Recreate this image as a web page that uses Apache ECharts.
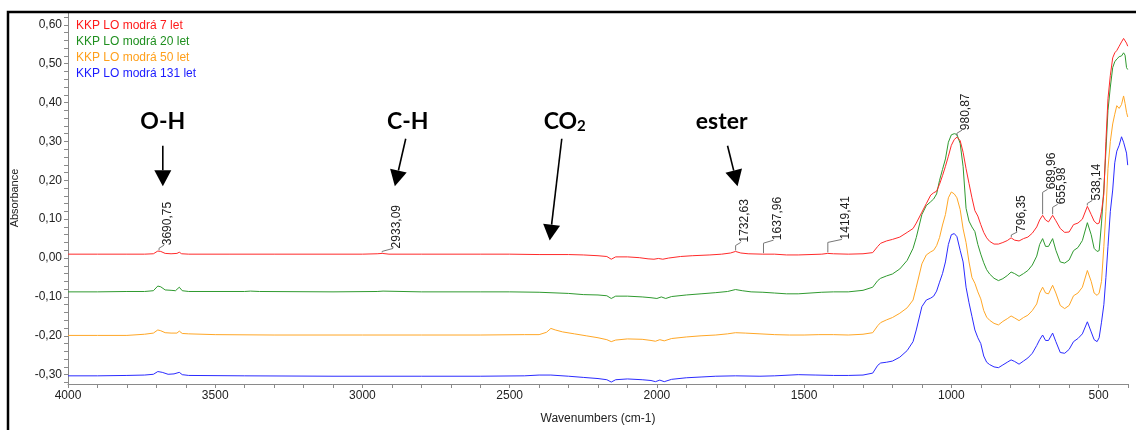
<!DOCTYPE html>
<html>
<head>
<meta charset="utf-8">
<script src="https://cdn.jsdelivr.net/npm/echarts@6/dist/echarts.min.js"></script>
<style>
  html, body { margin: 0; padding: 0; background: #fff; }
  #chart { width: 1136px; height: 430px; }
</style>
</head>
<body>
<div id="chart"></div>
<script>
// FTIR spectra of "KKP LO modrá" samples of different age, [wavenumber cm-1, absorbance]
const seriesNames = ['KKP LO modrá 7 let', 'KKP LO modrá 20 let', 'KKP LO modrá 50 let', 'KKP LO modrá 131 let'];

const spec7 = [
  [4000,0.010],[3900,0.010],[3800,0.010],[3740,0.010],[3710,0.011],[3695,0.018],[3685,0.017],[3670,0.012],
  [3650,0.011],[3630,0.012],[3622,0.015],[3614,0.011],[3590,0.010],[3450,0.010],[3300,0.010],[3100,0.010],
  [3000,0.010],[2950,0.011],[2933,0.012],[2910,0.010],[2800,0.010],[2600,0.010],[2500,0.010],[2400,0.009],
  [2300,0.009],[2250,0.008],[2200,0.006],[2170,0.004],[2155,-0.003],[2140,0.003],[2100,0.003],[2060,0.001],
  [2030,-0.002],[2010,-0.003],[1995,-0.001],[1980,-0.003],[1960,0.000],[1920,0.004],[1880,0.006],[1820,0.008],
  [1780,0.010],[1750,0.013],[1733,0.017],[1715,0.013],[1690,0.011],[1640,0.010],[1600,0.010],[1560,0.008],
  [1520,0.008],[1480,0.009],[1440,0.010],[1420,0.012],[1400,0.011],[1350,0.010],
  [1300,0.011],[1267,0.014],[1250,0.030],[1240,0.038],[1220,0.044],[1200,0.048],[1175,0.054],[1150,0.066],
  [1130,0.076],[1119,0.090],[1100,0.118],[1085,0.140],[1070,0.162],[1060,0.168],[1050,0.172],[1040,0.190],
  [1030,0.212],[1020,0.236],[1010,0.262],[1000,0.290],[990,0.305],[981,0.311],[970,0.302],[960,0.272],
  [950,0.230],[940,0.192],[930,0.155],[920,0.122],[910,0.108],[900,0.086],[890,0.066],[880,0.052],
  [870,0.043],[855,0.036],[840,0.036],[825,0.040],[810,0.045],[797,0.052],[785,0.046],[770,0.044],
  [755,0.050],[740,0.054],[725,0.064],[710,0.080],[700,0.098],[690,0.110],[680,0.098],[670,0.093],
  [656,0.110],[645,0.096],[630,0.076],[615,0.066],[600,0.067],[585,0.086],[570,0.090],[555,0.100],
  [538,0.133],[525,0.112],[515,0.095],[505,0.088],[498,0.090],[490,0.120],[482,0.165],[475,0.300],
  [468,0.410],[460,0.470],[452,0.515],[445,0.528],[438,0.534],[430,0.545],[422,0.556],[415,0.565],
  [410,0.570],[405,0.553],[401,0.545]
];

const spec20 = [
  [4000,-0.087],[3900,-0.087],[3800,-0.086],[3740,-0.086],[3710,-0.084],[3695,-0.072],[3685,-0.074],[3670,-0.082],
  [3650,-0.083],[3635,-0.084],[3622,-0.075],[3612,-0.084],[3590,-0.086],[3400,-0.086],[3380,-0.085],[3350,-0.086],
  [3100,-0.087],[2950,-0.086],[2930,-0.085],[2800,-0.087],[2600,-0.087],[2500,-0.087],[2400,-0.088],[2300,-0.091],
  [2250,-0.094],[2200,-0.095],[2170,-0.097],[2155,-0.104],[2140,-0.098],[2100,-0.098],[2050,-0.100],[2020,-0.102],
  [2000,-0.104],[1985,-0.100],[1970,-0.104],[1950,-0.099],[1900,-0.095],[1850,-0.092],[1800,-0.089],[1760,-0.086],
  [1733,-0.081],[1710,-0.084],[1680,-0.087],[1640,-0.088],[1600,-0.090],[1560,-0.092],[1520,-0.092],[1480,-0.090],
  [1440,-0.088],[1400,-0.087],[1350,-0.087],
  [1300,-0.083],[1267,-0.075],[1250,-0.058],[1240,-0.052],[1220,-0.046],[1200,-0.041],[1175,-0.028],[1150,-0.006],
  [1130,0.025],[1119,0.053],[1100,0.112],[1085,0.135],[1070,0.145],[1060,0.152],[1050,0.165],[1040,0.200],
  [1030,0.228],[1020,0.255],[1010,0.298],[1000,0.317],[990,0.320],[981,0.318],[970,0.295],[960,0.235],
  [950,0.128],[940,0.095],[930,0.080],[920,0.068],[910,0.035],[900,0.010],[890,-0.012],[880,-0.030],
  [870,-0.041],[855,-0.052],[840,-0.058],[825,-0.053],[810,-0.045],[797,-0.036],[785,-0.040],[770,-0.047],
  [755,-0.040],[740,-0.032],[725,-0.018],[710,0.005],[700,0.035],[690,0.050],[680,0.030],[670,0.030],
  [656,0.050],[645,0.020],[630,-0.010],[615,-0.013],[600,-0.005],[585,0.019],[570,0.027],[555,0.045],
  [538,0.091],[525,0.060],[515,0.025],[505,0.017],[498,0.019],[490,0.090],[482,0.180],[475,0.275],
  [468,0.380],[460,0.440],[452,0.490],[445,0.505],[438,0.512],[430,0.518],[422,0.520],[415,0.528],
  [410,0.522],[405,0.490],[401,0.485]
];

const spec50 = [
  [4000,-0.199],[3900,-0.199],[3800,-0.199],[3740,-0.196],[3710,-0.193],[3695,-0.185],[3685,-0.187],[3670,-0.192],
  [3650,-0.193],[3630,-0.193],[3622,-0.188],[3612,-0.194],[3590,-0.195],[3500,-0.197],[3300,-0.198],[3000,-0.198],
  [2800,-0.198],[2600,-0.198],[2450,-0.197],[2400,-0.197],[2375,-0.191],[2360,-0.181],[2345,-0.185],[2320,-0.190],
  [2280,-0.195],[2240,-0.200],[2200,-0.205],[2170,-0.210],[2155,-0.215],[2140,-0.211],[2100,-0.208],[2050,-0.209],
  [2020,-0.212],[2005,-0.214],[1990,-0.210],[1975,-0.213],[1950,-0.207],[1900,-0.203],[1850,-0.200],[1800,-0.198],
  [1760,-0.195],[1733,-0.192],[1700,-0.193],[1650,-0.195],[1600,-0.197],[1550,-0.198],[1500,-0.198],[1450,-0.197],
  [1400,-0.197],[1350,-0.198],
  [1300,-0.196],[1267,-0.192],[1250,-0.174],[1240,-0.166],[1220,-0.159],[1200,-0.153],[1175,-0.142],[1150,-0.128],
  [1130,-0.108],[1119,-0.075],[1100,-0.015],[1085,0.008],[1070,0.016],[1060,0.020],[1050,0.032],[1040,0.053],
  [1030,0.085],[1020,0.112],[1010,0.155],[1000,0.170],[990,0.165],[981,0.155],[970,0.125],[960,0.075],
  [950,0.040],[940,-0.010],[930,-0.050],[920,-0.065],[910,-0.087],[900,-0.105],[890,-0.135],[880,-0.152],
  [870,-0.160],[855,-0.168],[840,-0.172],[825,-0.163],[810,-0.156],[797,-0.149],[785,-0.154],[770,-0.161],
  [755,-0.153],[740,-0.147],[725,-0.135],[710,-0.118],[700,-0.090],[690,-0.075],[680,-0.090],[670,-0.092],
  [656,-0.070],[645,-0.090],[630,-0.122],[615,-0.130],[600,-0.122],[585,-0.097],[570,-0.090],[555,-0.075],
  [538,-0.032],[525,-0.060],[515,-0.090],[505,-0.096],[498,-0.090],[490,-0.060],[482,0.030],[475,0.120],
  [468,0.230],[460,0.300],[452,0.345],[445,0.370],[438,0.392],[430,0.385],[422,0.395],[415,0.417],
  [410,0.398],[405,0.375],[401,0.363]
];

const spec131 = [
  [4000,-0.303],[3900,-0.303],[3800,-0.302],[3740,-0.301],[3710,-0.299],[3695,-0.292],[3680,-0.294],[3660,-0.299],
  [3640,-0.298],[3622,-0.294],[3612,-0.300],[3590,-0.302],[3400,-0.303],[3100,-0.304],[2800,-0.304],[2600,-0.304],
  [2450,-0.303],[2400,-0.301],[2360,-0.301],[2300,-0.304],[2250,-0.307],[2200,-0.310],[2170,-0.313],[2155,-0.319],
  [2140,-0.313],[2100,-0.311],[2050,-0.313],[2020,-0.315],[2005,-0.318],[1990,-0.314],[1975,-0.318],[1950,-0.312],
  [1900,-0.308],[1850,-0.306],[1800,-0.304],[1733,-0.303],[1650,-0.304],[1600,-0.303],[1520,-0.300],[1460,-0.301],
  [1400,-0.302],[1350,-0.302],
  [1300,-0.301],[1267,-0.296],[1250,-0.276],[1240,-0.270],[1220,-0.268],[1200,-0.265],[1175,-0.255],[1150,-0.238],
  [1130,-0.215],[1119,-0.185],[1100,-0.125],[1085,-0.108],[1070,-0.103],[1060,-0.098],[1050,-0.085],[1040,-0.062],
  [1030,-0.040],[1020,-0.010],[1010,0.035],[1000,0.060],[990,0.063],[981,0.055],[970,0.020],[960,-0.010],
  [950,-0.075],[940,-0.115],[930,-0.150],[920,-0.185],[910,-0.205],[900,-0.220],[890,-0.252],[880,-0.268],
  [870,-0.274],[855,-0.280],[840,-0.282],[825,-0.275],[810,-0.268],[797,-0.262],[785,-0.266],[770,-0.273],
  [755,-0.265],[740,-0.257],[725,-0.245],[710,-0.225],[700,-0.210],[690,-0.198],[680,-0.212],[670,-0.212],
  [656,-0.193],[645,-0.215],[630,-0.243],[615,-0.245],[600,-0.235],[585,-0.215],[570,-0.207],[555,-0.195],
  [538,-0.164],[525,-0.190],[515,-0.210],[505,-0.215],[498,-0.205],[490,-0.165],[482,-0.120],[475,-0.050],
  [468,0.030],[460,0.120],[452,0.175],[445,0.245],[438,0.275],[430,0.290],[422,0.312],[415,0.298],
  [410,0.303],[405,0.270],[401,0.239]
];

// Picked peak positions, labelled on the 7-year spectrum
const peakWavenumbers = [3690.75, 2933.09, 1732.63, 1637.96, 1419.41, 980.87, 796.35, 689.96, 655.98, 538.14];

// Band assignments with their arrows: [label, text position, arrow tail, arrow tip] in data units
const bandNames = ['O-H', 'C-H', 'CO2', 'ester'];
const bandTextAt = [[3678, 0.352], [2846, 0.352], [2313, 0.352], [1780, 0.352]];
const bandArrowFrom = [[3678, 0.289], [2853, 0.307], [2323, 0.307], [1760, 0.289]];
const bandArrowTo = [[3678, 0.185], [2890, 0.185], [2364, 0.045], [1726, 0.185]];

// Axis ticks
const xLabelTicks = [500, 1000, 1500, 2000, 2500, 3000, 3500, 4000];
const yLabelTicks = [-0.3, -0.2, -0.1, 0, 0.1, 0.2, 0.3, 0.4, 0.5, 0.6];

const colors = ['#ff2a2a', '#2f9a2f', '#ffa726', '#2b2bff'];
const legendColors = ['#ff1a1a', '#1f8f1f', '#ff9f1a', '#1a1aff'];
const FONT = '"Liberation Sans", Arial, sans-serif';

const xMinor = [];
for (let v = 400; v <= 4000; v += 100) xMinor.push(v);
const yMinor = [];
for (let i = -16; i <= 31; i++) yMinor.push(+(i * 0.02).toFixed(2));

const allSpectra = [spec7, spec20, spec50, spec131];

const chart = echarts.init(document.getElementById('chart'), null, { renderer: 'canvas' });

chart.setOption({
  animation: false,
  backgroundColor: '#ffffff',
  grid: { left: 68, right: 8, top: 12, bottom: 42, containLabel: false },
  legend: {
    orient: 'vertical',
    left: 66,
    top: 15,
    icon: 'none',
    itemWidth: 0,
    itemHeight: 12,
    itemGap: 4,
    selectedMode: false,
    textStyle: { fontFamily: FONT, fontSize: 12 },
    data: seriesNames.map((n, i) => ({ name: n, textStyle: { color: legendColors[i] } }))
  },
  xAxis: {
    type: 'value',
    inverse: true,
    min: 400,
    max: 4000,
    name: 'Wavenumbers (cm-1)',
    nameLocation: 'middle',
    nameGap: 29,
    nameTextStyle: { fontFamily: FONT, fontSize: 12, color: '#222' },
    axisLine: { onZero: false, lineStyle: { color: '#8a8a8a' } },
    axisTick: { show: true, customValues: xMinor, length: 4, lineStyle: { color: '#8a8a8a' } },
    axisLabel: {
      customValues: xLabelTicks, fontFamily: FONT, fontSize: 12, color: '#222', margin: 6,
      formatter: v => String(Math.round(v))
    },
    splitLine: { show: false }
  },
  yAxis: {
    type: 'value',
    min: -0.324,
    max: 0.633,
    name: 'Absorbance',
    nameLocation: 'middle',
    nameGap: 48,
    nameTextStyle: { fontFamily: FONT, fontSize: 11, color: '#222' },
    axisLine: { show: true, onZero: false, lineStyle: { color: '#8a8a8a' } },
    axisTick: { show: true, customValues: yMinor, length: 4, lineStyle: { color: '#8a8a8a' } },
    axisLabel: {
      customValues: yLabelTicks,
      fontFamily: FONT, fontSize: 12, color: '#222', margin: 6,
      formatter: v => v.toFixed(2).replace('.', ',').replace('-0,00', '0,00')
    },
    splitLine: { show: false }
  },
  series: allSpectra.map((d, i) => ({
    name: seriesNames[i],
    type: 'line',
    data: d,
    showSymbol: false,
    symbol: 'none',
    lineStyle: { width: 1, color: colors[i] },
    itemStyle: { color: colors[i] },
    z: 10 - i
  }))
});

function valueAt(data, wn) {
  for (let i = 0; i < data.length - 1; i++) {
    const a = data[i], b = data[i + 1];
    if ((wn <= a[0] && wn >= b[0])) {
      const t = (a[0] - wn) / (a[0] - b[0]);
      return a[1] + t * (b[1] - a[1]);
    }
  }
  return data[data.length - 1][1];
}

function px(p) { return chart.convertToPixel({ seriesIndex: 0 }, p); }

// Leader shape per peak label: vertical rise and sideways offset of the text (pixels)
const leaderRise = [3, 2, 6, 11, 11, 4, 3, 23, 8, 3];
const leaderShift = [9, 15, 9, 14, 18, 9, 10, 9, 9, 9];

const graphics = [];

// Outer frame (left and top edges)
graphics.push({
  type: 'polyline', silent: true, z: 100,
  shape: { points: [[8, 432], [8, 12], [1136, 12]] },
  style: { stroke: '#000', lineWidth: 2.5, fill: null }
});

peakWavenumbers.forEach((wn, i) => {
  const p = px([wn, valueAt(spec7, wn)]);
  const L = leaderRise[i], S = leaderShift[i];
  const top = p[1] - L - 3;
  graphics.push({
    type: 'polyline', silent: true, z: 50,
    shape: { points: [[p[0], p[1] - 1], [p[0], p[1] - L], [p[0] + S - 4, top]] },
    style: { stroke: '#777', lineWidth: 1, fill: null }
  });
  graphics.push({
    type: 'text', silent: true, z: 50,
    x: p[0] + S, y: top, rotation: Math.PI / 2,
    style: {
      text: wn.toFixed(2).replace('.', ','),
      font: '12px ' + FONT, fill: '#222',
      align: 'left', verticalAlign: 'middle'
    }
  });
});

bandNames.forEach((name, i) => {
  const t = px(bandTextAt[i]);
  const a = px(bandArrowFrom[i]);
  const b = px(bandArrowTo[i]);
  const isCO2 = name === 'CO2';
  graphics.push({
    type: 'text', silent: true, z: 60,
    x: t[0], y: t[1],
    style: isCO2 ? {
      text: '{m|CO}{s|2}',
      align: 'center', verticalAlign: 'middle',
      rich: {
        m: { font: 'bold 23px Lato, "Open Sans", sans-serif', fill: '#000' },
        s: { font: 'bold 15px Lato, "Open Sans", sans-serif', fill: '#000', padding: [9, 0, 0, 0] }
      }
    } : {
      text: name, font: 'bold 23px Lato, "Open Sans", sans-serif', fill: '#000',
      align: 'center', verticalAlign: 'middle'
    }
  });
  // arrow shaft and head
  const dx = b[0] - a[0], dy = b[1] - a[1];
  const len = Math.sqrt(dx * dx + dy * dy);
  const ux = dx / len, uy = dy / len;
  const headL = 16, headW = 8.5;
  const base = [b[0] - ux * headL, b[1] - uy * headL];
  graphics.push({
    type: 'line', silent: true, z: 60,
    shape: { x1: a[0], y1: a[1], x2: base[0], y2: base[1] },
    style: { stroke: '#000', lineWidth: 1.6 }
  });
  graphics.push({
    type: 'polygon', silent: true, z: 60,
    shape: { points: [[b[0], b[1]], [base[0] - uy * headW, base[1] + ux * headW], [base[0] + uy * headW, base[1] - ux * headW]] },
    style: { fill: '#000' }
  });
});

chart.setOption({ graphic: graphics });
</script>
</body>
</html>
